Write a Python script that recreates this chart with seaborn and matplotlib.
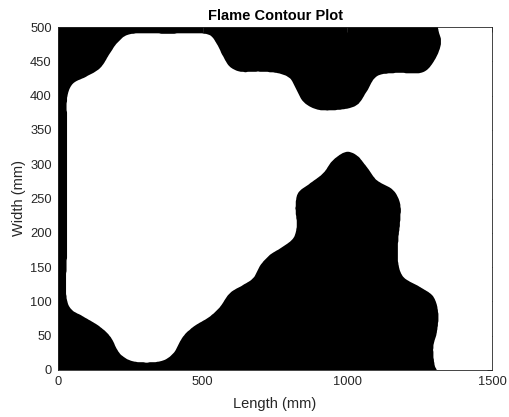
import numpy as np
import matplotlib
matplotlib.use("Agg")
import matplotlib.pyplot as plt
from matplotlib.path import Path
import seaborn as sns

# Boundary of the unburnt (white) region (mm)
white_x = [1309, 1303, 1297, 1309, 1314, 1297, 1251, 1193, 1176, 1176, 1182, 1182,
           1159, 1101, 1067, 1032, 998, 951, 917, 871, 830, 821, 825, 813, 767, 733,
           700, 675, 640, 594, 560, 525, 468, 433, 398, 364, 306, 249, 214, 180, 145,
           87, 47, 31, 31, 31, 32, 31, 31, 38, 53, 99, 145, 180, 203, 237, 318, 376,
           456, 525, 548, 571, 594, 629, 698, 767, 802, 825, 848, 894, 963, 1032,
           1067, 1101, 1165, 1261, 1296, 1324, 1313, 1310, 1800, 1800, 1309]
white_y = [0, 5, 34, 54, 83, 107, 121, 136, 156, 190, 214, 243,
           262, 277, 296, 313, 318, 306, 287, 272, 258, 238, 209, 192, 177, 168,
           153, 134, 124, 112, 92, 78, 63, 49, 24, 14, 11, 14, 24, 49, 63,
           78, 88, 102, 175, 248, 326, 365, 394, 408, 418, 428, 440, 462, 476, 488, 491, 490,
           491, 488, 476, 457, 442, 435, 435, 432, 425, 408, 391, 380, 379, 386,
           406, 428, 433, 434, 448, 477, 500, 700, 700, -200, -200]

x_ticks = [0, 500, 1000, 1500]
y_ticks = list(range(0, 501, 50))

sns.set_theme(style="white")
plt.rcParams['font.family'] = ['Liberation Sans', 'DejaVu Sans']

# smooth closed boundary (centripetal Catmull-Rom, in screen-like units)
sx, sy = 0.2893, 0.686
P = np.column_stack([np.array(white_x) * sx, np.array(white_y) * sy])
N = len(P)
pts = []
for i in range(N):
    p0, p1, p2, p3 = P[(i - 1) % N], P[i], P[(i + 1) % N], P[(i + 2) % N]
    t0 = 0.0
    t1 = t0 + np.linalg.norm(p1 - p0) ** 0.5
    t2 = t1 + np.linalg.norm(p2 - p1) ** 0.5
    t3 = t2 + np.linalg.norm(p3 - p2) ** 0.5
    t = np.linspace(t1, t2, 25, endpoint=False)[:, None]
    A1 = (t1 - t) / (t1 - t0) * p0 + (t - t0) / (t1 - t0) * p1
    A2 = (t2 - t) / (t2 - t1) * p1 + (t - t1) / (t2 - t1) * p2
    A3 = (t3 - t) / (t3 - t2) * p2 + (t - t2) / (t3 - t2) * p3
    B1 = (t2 - t) / (t2 - t0) * A1 + (t - t0) / (t2 - t0) * A2
    B2 = (t3 - t) / (t3 - t1) * A2 + (t - t1) / (t3 - t1) * A3
    C = (t2 - t) / (t2 - t1) * B1 + (t - t1) / (t2 - t1) * B2
    pts.append(C)
curve = np.vstack(pts)
curve[:, 0] /= sx
curve[:, 1] /= sy

# grid (about half a pixel per step)
gx = np.linspace(-300, 1800, 1215)
gy = np.linspace(-150, 650, 1099)
GX, GY = np.meshgrid(gx, gy)
path = Path(curve)
mask = path.contains_points(np.column_stack([GX.ravel(), GY.ravel()])).reshape(GX.shape).astype(float)

sig = 1.5
k = np.arange(-5, 6)
kern = np.exp(-0.5 * (k / sig) ** 2)
kern /= kern.sum()
field = np.apply_along_axis(lambda r: np.convolve(r, kern, mode='same'), 1, mask)
field = np.apply_along_axis(lambda c: np.convolve(c, kern, mode='same'), 0, field)

fig = plt.figure(figsize=(5.09, 4.17), dpi=100)
ax = fig.add_axes([58/509, 1-370/417, (492-58)/509, (370-27)/417])
ax.set_facecolor('black')
ax.contourf(GX, GY, field, levels=[0.5, 1.5], colors=['white'], antialiased=True)
ax.set_xlim(0, 1500)
ax.set_ylim(0, 500)
ax.set_xticks(x_ticks)
ax.set_yticks(y_ticks)
gray = '#262626'
ax.tick_params(direction='in', length=3.5, width=0.6, colors=gray, labelsize=9.3,
               top=True, right=True, labeltop=False, labelright=False, pad=4.5)
for s in ax.spines.values():
    s.set_color(gray)
    s.set_linewidth(0.6)
ax.set_xlabel('Length (mm)', fontsize=10.5, color=gray, labelpad=6)
ax.set_ylabel('Width (mm)', fontsize=10.5, color=gray, labelpad=3)
ax.set_title('Flame Contour Plot', fontsize=10.5, fontweight='bold', color='black', pad=5)
fig.savefig('out.png', dpi=100, facecolor='white')
